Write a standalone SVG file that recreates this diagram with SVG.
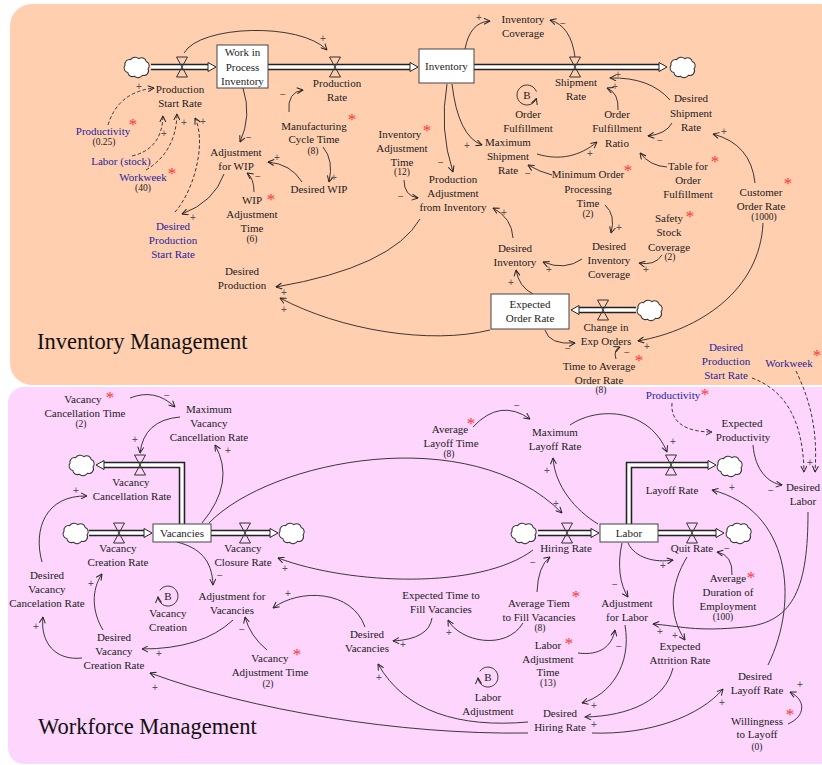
<svg xmlns="http://www.w3.org/2000/svg" width="822" height="765" viewBox="0 0 822 765">
<defs>
<style>
.t{font-family:"Liberation Serif","Times New Roman",serif;font-size:11px;fill:#1c1c1c;text-anchor:middle}
.bl{fill:#25259c}
.sm{font-size:9.5px}
.ast{font-family:"Liberation Serif","Times New Roman",serif;font-size:17px;fill:#ff3333;text-anchor:middle}
.sg{font-family:"Liberation Sans",Arial,sans-serif;font-size:10px;fill:#555;text-anchor:middle}
.ttl{font-family:"Liberation Serif","Times New Roman",serif;font-size:22.5px;fill:#111}
.ln{fill:none;stroke:#262626;stroke-width:0.9;marker-end:url(#ah)}
.dl{stroke-dasharray:3.5 2.2}
.po{fill:none;stroke:#222;stroke-width:6.5}
.pi{fill:none;stroke:#fff;stroke-width:3.4}
.ph{fill:#fff;stroke:#222;stroke-width:1}
.vl{fill:none;stroke:#333;stroke-width:1}
.bx{fill:#fff;stroke:#444;stroke-width:1}
.cl{fill:#fff;stroke:#333;stroke-width:1.1}
</style>
<marker id="ah" viewBox="0 0 7 7" refX="6.5" refY="3.5" markerWidth="7" markerHeight="7" markerUnits="userSpaceOnUse" orient="auto"><path d="M0.5,0.5 L6.5,3.5 L0.5,6.5" fill="none" stroke="#262626" stroke-width="1"/></marker>
<path id="cloud" d="M-10,6 a5,5 0 0 1 -3,-8 a5,5 0 0 1 6,-6 a6,6 0 0 1 9,-1 a5,5 0 0 1 8,3 a5,5 0 0 1 2,8 a5,5 0 0 1 -6,7 a6,6 0 0 1 -9,1 a5,5 0 0 1 -7,-4 z"/>
<path id="valve" d="M-5.5,-10 H5.5 L-5.5,10 H5.5 Z"/>
</defs>

<g id="panels">
<rect x="10" y="4" width="830" height="381" rx="22" fill="#FFCFB0"/>
<rect x="8" y="387" width="830" height="377" rx="16" fill="#FDD5FD"/>
<text class="ttl" x="37" y="349">Inventory Management</text>
<text class="ttl" x="38" y="734">Workforce Management</text>
</g>

<g id="connectors">
<path class="ln" d="M184,53 C200,25 300,22 327,50"/>
<path class="ln" d="M465,49 Q470,22 490,21"/>
<path class="ln" d="M575,57 Q571,26 550,20"/>
<path class="ln" d="M289,112 Q287,92 303,90"/>
<path class="ln" d="M323,147 Q334,160 329,182"/>
<path class="ln" d="M302,182 Q291,164 268,162"/>
<path class="ln" d="M243,88 Q252,116 240,142"/>
<path class="ln" d="M254,192 Q254,178 247,173"/>
<path class="ln" d="M224,174 Q214,202 182,214"/>
<path class="ln dl" d="M175,212 C196,188 206,140 195,118"/>
<path class="ln dl" d="M108,125 Q118,92 154,88"/>
<path class="ln dl" d="M132,156 Q162,149 163,116"/>
<path class="ln dl" d="M146,170 Q176,152 177,114"/>
<path class="ln" d="M447,84 Q439,130 453,172"/>
<path class="ln" d="M452,84 Q458,136 482,145"/>
<path class="ln" d="M404,180 Q404,196 418,198"/>
<path class="ln" d="M420,219 Q392,267 276,287"/>
<path class="ln" d="M490,330 C430,345 340,330 280,298"/>
<path class="ln" d="M513,238 Q512,218 493,208"/>
<path class="ln" d="M533,294 Q519,287 516,270"/>
<path class="ln" d="M582,259 Q565,271 543,262"/>
<path class="ln" d="M662,255 Q655,266 639,263"/>
<path class="ln" d="M605,205 Q616,215 611,233"/>
<path class="ln" d="M552,175 Q540,172 528,165"/>
<path class="ln" d="M537,154 C560,161 580,156 597,142"/>
<path class="ln" d="M672,123 Q666,134 648,136"/>
<path class="ln" d="M667,167 Q650,166 640,153"/>
<path class="ln" d="M618,110 Q619,93 607,88"/>
<path class="ln" d="M670,100 Q650,77 610,78"/>
<path class="ln" d="M755,183 Q751,144 713,134"/>
<path class="ln" d="M763,223 C760,290 700,330 638,341"/>
<path class="ln" d="M545,330 Q549,345 575,343"/>
<path class="ln" d="M616,359 Q613,350 620,347"/>

<path class="ln" d="M130,398 Q155,388 175,407"/>
<path class="ln" d="M180,417 Q144,420 140,453"/>
<path class="ln" d="M202,523 Q236,482 215,445"/>
<path class="ln" d="M42,562 C33,530 45,495 87,496"/>
<path class="ln" d="M103,630 C92,612 91,590 102,574"/>
<path class="ln" d="M82,658 C55,661 40,642 43,617"/>
<path class="ln" d="M177,542 C200,548 212,560 213,585"/>
<path class="ln" d="M267,650 Q250,636 245,617"/>
<path class="ln" d="M233,620 Q202,649 142,649"/>
<path class="ln" d="M365,627 C352,590 300,588 273,608"/>
<path class="ln" d="M432,618 Q429,639 393,641"/>
<path class="ln" d="M523,623 C506,651 460,642 448,620"/>
<path class="ln" d="M537,592 Q538,566 550,557"/>
<path class="ln" d="M528,722 C460,728 405,712 378,664"/>
<path class="ln" d="M528,733 C400,735 250,710 150,673"/>
<path class="ln" d="M533,550 C480,590 350,585 278,558"/>
<path class="ln" d="M209,523 C270,460 470,420 562,513"/>
<path class="ln" d="M473,427 Q500,398 530,419"/>
<path class="ln" d="M570,425 C600,405 650,410 667,452"/>
<path class="ln" d="M598,524 C575,510 555,486 553,458"/>
<path class="ln dl" d="M672,403 C670,425 690,432 712,432"/>
<path class="ln" d="M753,445 C755,470 768,483 782,485"/>
<path class="ln dl" d="M752,378 C785,390 803,420 804,472"/>
<path class="ln dl" d="M796,371 C810,400 818,430 815,472"/>
<path class="ln" d="M808,512 C808,585 795,622 745,627 S680,626 653,624"/>
<path class="ln" d="M622,543 C617,565 620,585 628,597"/>
<path class="ln" d="M578,653 C600,656 612,646 615,630"/>
<path class="ln" d="M625,625 C632,665 610,695 582,703"/>
<path class="ln" d="M628,543 C635,558 655,563 673,560"/>
<path class="ln" d="M732,575 Q733,555 717,552"/>
<path class="ln" d="M687,557 C670,585 668,615 685,640"/>
<path class="ln" d="M673,668 C665,700 630,716 585,717"/>
<path class="ln" d="M592,733 C650,735 700,716 723,689"/>
<path class="ln" d="M788,724 C806,716 806,700 790,692"/>
<path class="ln" d="M768,665 C800,600 790,510 712,490"/>
</g>

<g id="signs">
<text class="sg" x="323" y="41.5">+</text>
<text class="sg" x="479" y="20.5">+</text>
<text class="sg" x="563" y="26.5">−</text>
<text class="sg" x="283" y="97.5">−</text>
<text class="sg" x="334" y="180.5">+</text>
<text class="sg" x="277" y="160.5">+</text>
<text class="sg" x="249" y="140.5">−</text>
<text class="sg" x="258" y="179.5">−</text>
<text class="sg" x="193" y="220.5">+</text>
<text class="sg" x="203" y="124.5">+</text>
<text class="sg" x="139" y="89.5">+</text>
<text class="sg" x="164" y="136.5">+</text>
<text class="sg" x="184" y="125.5">+</text>
<text class="sg" x="441" y="165.5">−</text>
<text class="sg" x="467" y="148.5">+</text>
<text class="sg" x="401" y="199.5">−</text>
<text class="sg" x="284" y="295.5">+</text>
<text class="sg" x="284" y="312.5">+</text>
<text class="sg" x="504" y="215.5">+</text>
<text class="sg" x="511" y="285.5">+</text>
<text class="sg" x="549" y="272.5">+</text>
<text class="sg" x="646" y="272.5">+</text>
<text class="sg" x="619" y="230.5">+</text>
<text class="sg" x="528" y="176.5">−</text>
<text class="sg" x="590" y="156.5">+</text>
<text class="sg" x="660" y="143.5">−</text>
<text class="sg" x="615" y="89.5">+</text>
<text class="sg" x="618" y="77.5">+</text>
<text class="sg" x="724" y="134.5">+</text>
<text class="sg" x="647" y="349.5">+</text>
<text class="sg" x="568" y="351.5">−</text>
<text class="sg" x="627" y="355.5">−</text>

<text class="sg" x="167" y="398.5">−</text>
<text class="sg" x="135" y="442.5">+</text>
<text class="sg" x="228" y="453.5">+</text>
<text class="sg" x="76" y="493.5">+</text>
<text class="sg" x="91" y="586.5">+</text>
<text class="sg" x="36" y="629.5">+</text>
<text class="sg" x="220" y="578.5">−</text>
<text class="sg" x="242" y="632.5">−</text>
<text class="sg" x="159" y="656.5">+</text>
<text class="sg" x="288" y="596.5">+</text>
<text class="sg" x="403" y="647.5">+</text>
<text class="sg" x="449" y="635.5">+</text>
<text class="sg" x="533" y="565.5">−</text>
<text class="sg" x="379" y="680.5">+</text>
<text class="sg" x="155" y="690.5">+</text>
<text class="sg" x="285" y="571.5">+</text>
<text class="sg" x="556" y="506.5">+</text>
<text class="sg" x="517" y="408.5">−</text>
<text class="sg" x="673" y="444.5">+</text>
<text class="sg" x="547" y="473.5">+</text>
<text class="sg" x="771" y="493.5">−</text>
<text class="sg" x="810" y="465.5">+</text>
<text class="sg" x="660" y="634.5">+</text>
<text class="sg" x="615" y="587.5">−</text>
<text class="sg" x="619" y="649.5">−</text>
<text class="sg" x="594" y="708.5">+</text>
<text class="sg" x="663" y="568.5">+</text>
<text class="sg" x="727" y="551.5">−</text>
<text class="sg" x="675" y="638.5">+</text>
<text class="sg" x="594" y="727.5">+</text>
<text class="sg" x="722" y="705.5">+</text>
<text class="sg" x="800" y="687.5">+</text>
<text class="sg" x="732" y="490.5">+</text>
</g>

<g id="flows">
<path class="po" d="M151,67 H208"/><path class="pi" d="M151,67 H208"/><path class="ph" d="M208,62.5 L216,67 L208,71.5 Z"/>
<path class="po" d="M268,67 H410"/><path class="pi" d="M268,67 H410"/><path class="ph" d="M410,62.5 L418,67 L410,71.5 Z"/>
<path class="po" d="M474,67 H659"/><path class="pi" d="M474,67 H659"/><path class="ph" d="M659,62.5 L667,67 L659,71.5 Z"/>
<path class="po" d="M636,310 H579"/><path class="pi" d="M636,310 H579"/><path class="ph" d="M579,305.5 L571,310 L579,314.5 Z"/>
<path class="po" d="M182,524.5 V465 H104"/><path class="pi" d="M182,524.5 V465 H104"/><path class="ph" d="M104,460.5 L96,465 L104,469.5 Z"/>
<path class="po" d="M89,533 H144"/><path class="pi" d="M89,533 H144"/><path class="ph" d="M144,528.5 L152,533 L144,537.5 Z"/>
<path class="po" d="M211,533 H270"/><path class="pi" d="M211,533 H270"/><path class="ph" d="M270,528.5 L278,533 L270,537.5 Z"/>
<path class="po" d="M538,533 H591"/><path class="pi" d="M538,533 H591"/><path class="ph" d="M591,528.5 L599,533 L591,537.5 Z"/>
<path class="po" d="M629,524.5 V465 H708"/><path class="pi" d="M629,524.5 V465 H708"/><path class="ph" d="M708,460.5 L716,465 L708,469.5 Z"/>
<path class="po" d="M658,533 H716"/><path class="pi" d="M658,533 H716"/><path class="ph" d="M716,528.5 L724,533 L716,537.5 Z"/>
</g>

<g id="clouds">
<use href="#cloud" class="cl" transform="translate(137,67) scale(.92)"/>
<use href="#cloud" class="cl" transform="translate(683,67) scale(.92)"/>
<use href="#cloud" class="cl" transform="translate(650,310) scale(.92)"/>
<use href="#cloud" class="cl" transform="translate(82,465) scale(.92)"/>
<use href="#cloud" class="cl" transform="translate(76,533) scale(.92)"/>
<use href="#cloud" class="cl" transform="translate(292,533) scale(.92)"/>
<use href="#cloud" class="cl" transform="translate(524,533) scale(.92)"/>
<use href="#cloud" class="cl" transform="translate(730,466) scale(.92)"/>
<use href="#cloud" class="cl" transform="translate(739,533) scale(.92)"/>
</g>

<g id="wip"><rect class="bx" x="217" y="45" width="51" height="43"/><text class="t" x="242.5" y="56">Work in</text><text class="t" x="242.5" y="71">Process</text><text class="t" x="242.5" y="85">Inventory</text></g>
<g id="inventory"><rect class="bx" x="419" y="49" width="55" height="34"/><text class="t" x="446.5" y="70">Inventory</text></g>
<g id="expected-order-rate"><rect class="bx" x="491" y="294" width="78" height="35"/><text class="t" x="530" y="308">Expected</text><text class="t" x="530" y="322">Order Rate</text></g>
<g id="vacancies"><rect class="bx" x="153" y="524" width="58" height="18"/><text class="t" x="182" y="537">Vacancies</text></g>
<g id="labor"><rect class="bx" x="600" y="524" width="58" height="18"/><text class="t" x="629" y="537">Labor</text></g>

<g id="production-start-rate"><use href="#valve" class="vl" transform="translate(182,67)"/><text class="t" x="180" y="93">Production</text><text class="t" x="180" y="107">Start Rate</text></g>
<g id="production-rate"><use href="#valve" class="vl" transform="translate(335,67)"/><text class="t" x="337" y="87">Production</text><text class="t" x="337" y="101">Rate</text></g>
<g id="shipment-rate"><use href="#valve" class="vl" transform="translate(575,67)"/><text class="t" x="576" y="86">Shipment</text><text class="t" x="576" y="100">Rate</text></g>
<g id="change-in-exp-orders"><use href="#valve" class="vl" transform="translate(603,310)"/><text class="t" x="606" y="331">Change in</text><text class="t" x="606" y="345">Exp Orders</text></g>
<g id="vacancy-cancellation-rate"><use href="#valve" class="vl" transform="translate(140,465)"/><text class="t" x="131" y="486">Vacancy</text><text class="t" x="132" y="500">Cancellation Rate</text></g>
<g id="vacancy-creation-rate"><use href="#valve" class="vl" transform="translate(119,533)"/><text class="t" x="118" y="552">Vacancy</text><text class="t" x="118" y="566">Creation Rate</text></g>
<g id="vacancy-closure-rate"><use href="#valve" class="vl" transform="translate(245,533)"/><text class="t" x="243" y="552">Vacancy</text><text class="t" x="243" y="566">Closure Rate</text></g>
<g id="hiring-rate"><use href="#valve" class="vl" transform="translate(567,533)"/><text class="t" x="566" y="552">Hiring Rate</text></g>
<g id="layoff-rate"><use href="#valve" class="vl" transform="translate(671,465)"/><text class="t" x="672" y="494">Layoff Rate</text></g>
<g id="quit-rate"><use href="#valve" class="vl" transform="translate(692,533)"/><text class="t" x="692" y="552">Quit Rate</text></g>

<g id="inventory-coverage"><text class="t" x="523" y="23">Inventory</text><text class="t" x="523" y="37">Coverage</text></g>
<g id="productivity"><text class="t bl" x="103" y="135">Productivity</text><text class="t sm" x="104" y="145">(0.25)</text><text class="ast" x="133" y="130">*</text></g>
<g id="labor-stock"><text class="t bl" x="121" y="165">Labor (stock)</text></g>
<g id="workweek"><text class="t bl" x="143" y="181">Workweek</text><text class="t sm" x="143" y="191">(40)</text><text class="ast" x="172" y="179">*</text></g>
<g id="adjustment-for-wip"><text class="t" x="236" y="156">Adjustment</text><text class="t" x="236" y="170">for WIP</text></g>
<g id="manufacturing-cycle-time"><text class="t" x="314" y="130">Manufacturing</text><text class="t" x="314" y="143">Cycle Time</text><text class="t sm" x="313" y="154">(8)</text><text class="ast" x="352" y="125">*</text></g>
<g id="desired-wip"><text class="t" x="319" y="193">Desired WIP</text></g>
<g id="wip-adjustment-time"><text class="t" x="252" y="204">WIP</text><text class="t" x="252" y="218">Adjustment</text><text class="t" x="252" y="232">Time</text><text class="t sm" x="252" y="242">(6)</text><text class="ast" x="271" y="205">*</text></g>
<g id="desired-production-start-rate"><text class="t bl" x="173" y="230">Desired</text><text class="t bl" x="173" y="244">Production</text><text class="t bl" x="173" y="258">Start Rate</text></g>
<g id="desired-production"><text class="t" x="242" y="275">Desired</text><text class="t" x="242" y="289">Production</text></g>
<g id="inventory-adjustment-time"><text class="t" x="400" y="138">Inventory</text><text class="t" x="402" y="152">Adjustment</text><text class="t" x="402" y="166">Time</text><text class="t sm" x="402" y="175">(12)</text><text class="ast" x="427" y="136">*</text></g>
<g id="production-adjustment-from-inventory"><text class="t" x="453" y="183">Production</text><text class="t" x="453" y="197">Adjustment</text><text class="t" x="453" y="211">from Inventory</text></g>
<g id="maximum-shipment-rate"><text class="t" x="508" y="146">Maximum</text><text class="t" x="508" y="160">Shipment</text><text class="t" x="508" y="174">Rate</text></g>
<g id="loop-order-fulfillment"><path class="ln" d="M536.4,91.6 A10,10 0 1 0 536.4,98.4"/><text class="t" x="527" y="99">B</text><text class="t" x="528" y="118">Order</text><text class="t" x="528" y="132">Fulfillment</text></g>
<g id="order-fulfillment-ratio"><text class="t" x="617" y="118">Order</text><text class="t" x="617" y="132">Fulfillment</text><text class="t" x="617" y="147">Ratio</text></g>
<g id="desired-shipment-rate"><text class="t" x="691" y="102">Desired</text><text class="t" x="691" y="117">Shipment</text><text class="t" x="691" y="131">Rate</text></g>
<g id="table-for-order-fulfillment"><text class="t" x="688" y="170">Table for</text><text class="t" x="688" y="184">Order</text><text class="t" x="688" y="198">Fulfillment</text><text class="ast" x="715" y="167">*</text></g>
<g id="customer-order-rate"><text class="t" x="761" y="196">Customer</text><text class="t" x="761" y="210">Order Rate</text><text class="t sm" x="764" y="220">(1000)</text><text class="ast" x="788" y="189">*</text></g>
<g id="minimum-order-processing-time"><text class="t" x="588" y="178">Minimum Order</text><text class="t" x="588" y="193">Processing</text><text class="t" x="588" y="207">Time</text><text class="t sm" x="588" y="217">(2)</text><text class="ast" x="628" y="176">*</text></g>
<g id="desired-inventory-coverage"><text class="t" x="609" y="250">Desired</text><text class="t" x="609" y="264">Inventory</text><text class="t" x="609" y="278">Coverage</text></g>
<g id="safety-stock-coverage"><text class="t" x="669" y="222">Safety</text><text class="t" x="669" y="236">Stock</text><text class="t" x="669" y="251">Coverage</text><text class="t sm" x="670" y="260">(2)</text><text class="ast" x="690" y="222">*</text></g>
<g id="desired-inventory"><text class="t" x="515" y="252">Desired</text><text class="t" x="515" y="266">Inventory</text></g>
<g id="time-to-average-order-rate"><text class="t" x="599" y="370">Time to Average</text><text class="t" x="599" y="384">Order Rate</text><text class="t sm" x="601" y="393">(8)</text><text class="ast" x="639" y="366">*</text></g>
<g id="desired-production-start-rate-2"><text class="t bl" x="726" y="351">Desired</text><text class="t bl" x="726" y="365">Production</text><text class="t bl" x="726" y="379">Start Rate</text></g>
<g id="workweek-2"><text class="t bl" x="789" y="367">Workweek</text><text class="ast" x="817" y="361">*</text></g>

<g id="vacancy-cancellation-time"><text class="t" x="83" y="403">Vacancy</text><text class="t" x="85" y="417">Cancellation Time</text><text class="t sm" x="81" y="427">(2)</text><text class="ast" x="110" y="403">*</text></g>
<g id="maximum-vacancy-cancellation-rate"><text class="t" x="209" y="413">Maximum</text><text class="t" x="209" y="427">Vacancy</text><text class="t" x="209" y="441">Cancellation Rate</text></g>
<g id="average-layoff-time"><text class="t" x="450" y="433">Average</text><text class="t" x="451" y="447">Layoff Time</text><text class="t sm" x="449" y="457">(8)</text><text class="ast" x="471" y="429">*</text></g>
<g id="maximum-layoff-rate"><text class="t" x="555" y="436">Maximum</text><text class="t" x="555" y="450">Layoff Rate</text></g>
<g id="productivity-2"><text class="t bl" x="673" y="399">Productivity</text><text class="ast" x="705" y="400">*</text></g>
<g id="expected-productivity"><text class="t" x="742" y="427">Expected</text><text class="t" x="743" y="441">Productivity</text></g>
<g id="desired-labor"><text class="t" x="803" y="491">Desired</text><text class="t" x="803" y="505">Labor</text></g>
<g id="average-duration-of-employment"><text class="t" x="728" y="582">Average</text><text class="t" x="728" y="596">Duration of</text><text class="t" x="728" y="610">Employment</text><text class="t sm" x="723" y="620">(100)</text><text class="ast" x="751" y="583">*</text></g>
<g id="adjustment-for-labor"><text class="t" x="627" y="607">Adjustment</text><text class="t" x="627" y="621">for Labor</text></g>
<g id="average-time-to-fill-vacancies"><text class="t" x="539" y="607">Average Tiem</text><text class="t" x="539" y="621">to Fill Vacancies</text><text class="t sm" x="540" y="631">(8)</text><text class="ast" x="576" y="602">*</text></g>
<g id="expected-time-to-fill-vacancies"><text class="t" x="441" y="599">Expected Time to</text><text class="t" x="441" y="613">Fill Vacancies</text></g>
<g id="desired-vacancies"><text class="t" x="367" y="638">Desired</text><text class="t" x="367" y="652">Vacancies</text></g>
<g id="adjustment-for-vacancies"><text class="t" x="232" y="600">Adjustment for</text><text class="t" x="232" y="614">Vacancies</text></g>
<g id="vacancy-adjustment-time"><text class="t" x="270" y="662">Vacancy</text><text class="t" x="270" y="676">Adjustment Time</text><text class="t sm" x="268" y="687">(2)</text><text class="ast" x="297" y="660">*</text></g>
<g id="loop-vacancy-creation"><path class="ln" d="M159.8,590.3 A10,10 0 1 1 158.0,596.9"/><text class="t" x="168" y="600">B</text><text class="t" x="168" y="617">Vacancy</text><text class="t" x="168" y="631">Creation</text></g>
<g id="desired-vacancy-cancelation-rate"><text class="t" x="47" y="579">Desired</text><text class="t" x="47" y="593">Vacancy</text><text class="t" x="47" y="607">Cancelation Rate</text></g>
<g id="desired-vacancy-creation-rate"><text class="t" x="114" y="641">Desired</text><text class="t" x="114" y="655">Vacancy</text><text class="t" x="114" y="669">Creation Rate</text></g>
<g id="labor-adjustment-time"><text class="t" x="548" y="649">Labor</text><text class="t" x="548" y="663">Adjustment</text><text class="t" x="548" y="676">Time</text><text class="t sm" x="548" y="686">(13)</text><text class="ast" x="569" y="649">*</text></g>
<g id="expected-attrition-rate"><text class="t" x="680" y="650">Expected</text><text class="t" x="680" y="664">Attrition Rate</text></g>
<g id="loop-labor-adjustment"><path class="ln" d="M479.8,671.3 A10,10 0 1 1 478.0,677.9"/><text class="t" x="488" y="681">B</text><text class="t" x="488" y="701">Labor</text><text class="t" x="488" y="715">Adjustment</text></g>
<g id="desired-hiring-rate"><text class="t" x="560" y="717">Desired</text><text class="t" x="560" y="731">Hiring Rate</text></g>
<g id="desired-layoff-rate"><text class="t" x="755" y="680">Desired</text><text class="t" x="757" y="694">Layoff Rate</text></g>
<g id="willingness-to-layoff"><text class="t" x="757" y="725">Willingness</text><text class="t" x="757" y="738">to Layoff</text><text class="t sm" x="757" y="750">(0)</text><text class="ast" x="790" y="720">*</text></g>
</svg>
